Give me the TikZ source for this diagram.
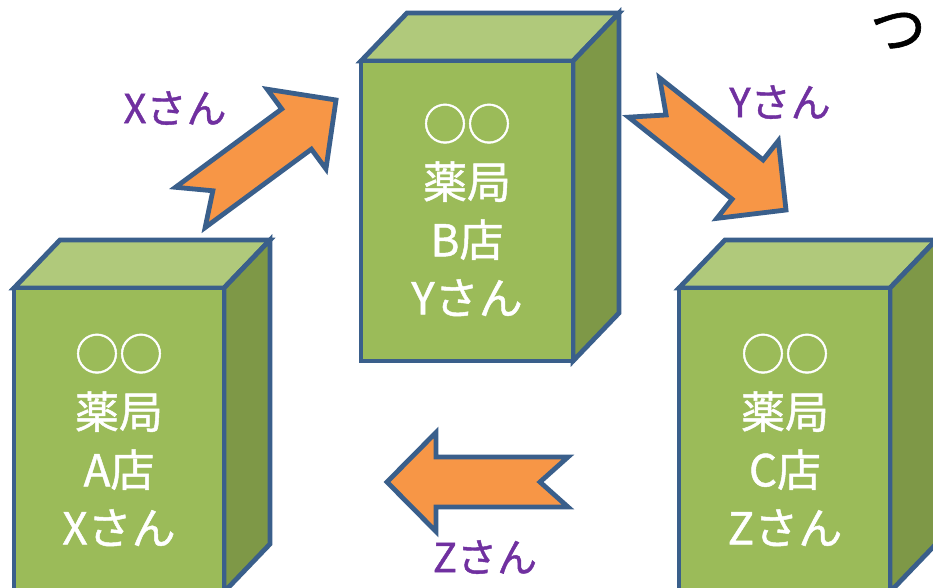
\documentclass[tikz,border=0pt]{standalone}
\usepackage{fontspec}
\setmainfont{Noto Sans CJK JP}
\newfontfamily\heavyfont[FakeBold=1.1]{Noto Sans CJK JP}
\definecolor{boxfront}{HTML}{9BBB59}
\definecolor{boxtop}{HTML}{B0C97B}
\definecolor{boxside}{HTML}{7E9847}
\definecolor{edgeblue}{HTML}{3A5F8B}
\definecolor{arrowfill}{HTML}{F79646}
\definecolor{lblpurple}{HTML}{7030A0}
\tikzset{
  edge/.style={draw=edgeblue, line width=4.8pt, line join=miter},
  boxtext/.style={text=white, font=\heavyfont\fontsize{44}{58}\selectfont, align=center, inner sep=0pt},
  lbl/.style={text=lblpurple, font=\heavyfont\fontsize{40}{44}\selectfont, inner sep=0pt},
  pics/storebox/.style 2 args={code={
    \filldraw[edge, fill=boxtop] (0,0) -- (46,-48) -- (#1+46,-48) -- (#1,0) -- cycle;
    \filldraw[edge, fill=boxside] (#1,0) -- (#1+46,-48) -- (#1+46,#2-48) -- (#1,#2) -- cycle;
    \filldraw[edge, fill=boxfront] (0,0) rectangle (#1,#2);
  }},
  pics/notcharrow/.style={code={
    \filldraw[edge, fill=arrowfill] (0,0) -- (-49,49.5) -- (-49,25) -- (-181,25) -- (-153,0)
      -- (-181,-25) -- (-49,-25) -- (-49,-49.5) -- cycle;
  }}
}
\begin{document}
\begin{tikzpicture}[x=1pt,y=-1pt]
  \clip (0,0) rectangle (933,588);
  \fill[white] (0,0) rectangle (933,588);
  % boxes
  \pic at (14,288) {storebox={210}{304}};
  \pic at (361,61) {storebox={212}{300}};
  \pic at (679,288) {storebox={211}{304}};
  % box texts
  \node[boxtext] (txtA) at (119,440) {○○\\薬局\\A店\\Xさん};
  \node[boxtext] (txtB) at (467,210) {○○\\薬局\\B店\\Yさん};
  \node[boxtext] (txtC) at (785,440) {○○\\薬局\\C店\\Zさん};
  % arrows
  \pic[rotate=36.4] at (336,100) {notcharrow};
  \pic[rotate=-38.4] at (786,210) {notcharrow};
  \pic[rotate=180] at (387,482) {notcharrow};
  % labels
  \node[lbl] (lx) at (175,108) {Xさん};
  \node[lbl] (ly) at (780,102) {Yさん};
  \node[lbl] (lz) at (485,557) {Zさん};
  \node[font=\heavyfont\fontsize{56}{56}\selectfont, inner sep=0pt] (tsu) at (898,31) {つ};
\end{tikzpicture}
\end{document}
